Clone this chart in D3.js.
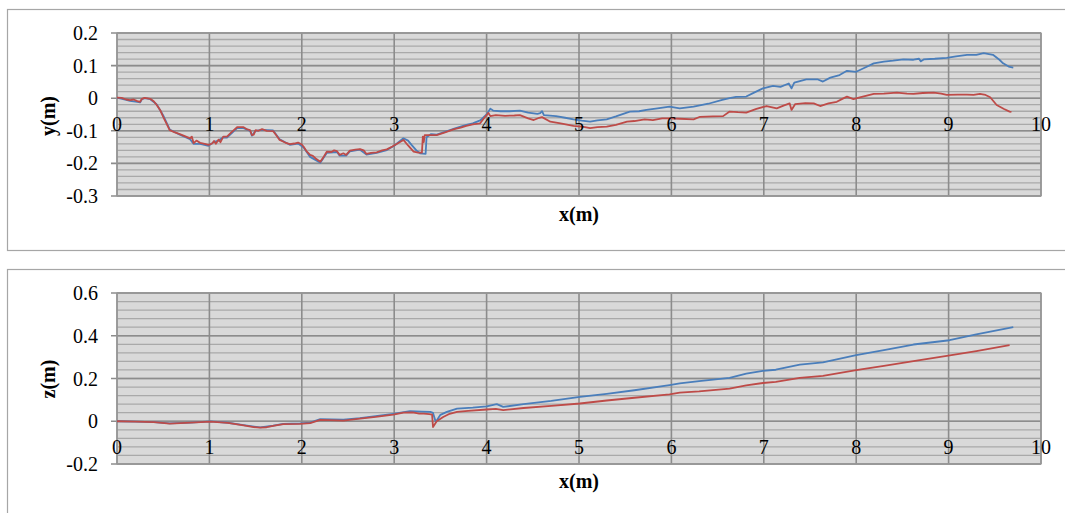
<!DOCTYPE html>
<html><head><meta charset="utf-8">
<script src="https://cdn.jsdelivr.net/npm/d3@7"></script>
<style>body{margin:0;background:#fff}svg{display:block}</style>
</head><body><svg id="c" width="1065" height="513"></svg>
<script>
const xTicks = [0,1,2,3,4,5,6,7,8,9,10];
const yTicks = [-0.3,-0.2,-0.1,0,0.1,0.2];
const zTicks = [-0.2,0,0.2,0.4,0.6];
const yBlue = [[0,0.002],[0.1,-0.005],[0.14,-0.008],[0.22,-0.011],[0.25,-0.013],[0.27,-0.003],[0.3,0],[0.36,-0.003],[0.43,-0.019],[0.5,-0.053],[0.57,-0.096],[0.68,-0.112],[0.79,-0.126],[0.83,-0.14],[0.9,-0.14],[0.99,-0.146],[1.05,-0.134],[1.1,-0.13],[1.15,-0.12],[1.19,-0.121],[1.3,-0.092],[1.37,-0.092],[1.44,-0.1],[1.46,-0.115],[1.5,-0.1],[1.57,-0.097],[1.69,-0.099],[1.76,-0.126],[1.87,-0.143],[1.96,-0.139],[2.02,-0.151],[2.09,-0.18],[2.2,-0.198],[2.27,-0.168],[2.38,-0.165],[2.41,-0.176],[2.48,-0.176],[2.52,-0.163],[2.63,-0.158],[2.7,-0.173],[2.81,-0.168],[2.92,-0.159],[3.0,-0.146],[3.1,-0.123],[3.15,-0.13],[3.19,-0.144],[3.24,-0.16],[3.28,-0.169],[3.34,-0.171],[3.35,-0.12],[3.4,-0.11],[3.46,-0.112],[3.55,-0.103],[3.65,-0.093],[3.78,-0.082],[3.85,-0.077],[3.93,-0.068],[4.0,-0.05],[4.04,-0.032],[4.07,-0.038],[4.15,-0.04],[4.25,-0.04],[4.36,-0.038],[4.45,-0.044],[4.55,-0.048],[4.58,-0.046],[4.6,-0.04],[4.62,-0.052],[4.75,-0.055],[4.85,-0.06],[4.94,-0.065],[5.03,-0.069],[5.12,-0.072],[5.2,-0.068],[5.3,-0.065],[5.4,-0.056],[5.55,-0.041],[5.65,-0.04],[5.73,-0.036],[5.85,-0.031],[5.98,-0.026],[6.09,-0.031],[6.24,-0.026],[6.4,-0.017],[6.55,-0.005],[6.63,0],[6.7,0.004],[6.81,0.005],[6.9,0.018],[6.99,0.03],[7.1,0.038],[7.18,0.035],[7.27,0.045],[7.3,0.03],[7.33,0.048],[7.46,0.058],[7.58,0.058],[7.64,0.051],[7.72,0.063],[7.82,0.071],[7.9,0.084],[8.0,0.081],[8.08,0.092],[8.19,0.107],[8.3,0.112],[8.4,0.115],[8.51,0.119],[8.62,0.118],[8.68,0.121],[8.7,0.113],[8.73,0.119],[8.85,0.121],[8.98,0.124],[9.08,0.128],[9.2,0.133],[9.3,0.133],[9.38,0.138],[9.48,0.133],[9.55,0.118],[9.59,0.107],[9.65,0.097],[9.7,0.094]];
const yRed = [[0,0.002],[0.05,0.001],[0.1,-0.004],[0.14,-0.006],[0.18,-0.004],[0.22,-0.009],[0.25,-0.011],[0.27,-0.002],[0.3,0.001],[0.36,-0.002],[0.4,-0.01],[0.43,-0.021],[0.47,-0.038],[0.5,-0.057],[0.54,-0.08],[0.57,-0.098],[0.62,-0.104],[0.68,-0.110],[0.74,-0.117],[0.79,-0.123],[0.81,-0.118],[0.83,-0.138],[0.86,-0.13],[0.9,-0.137],[0.95,-0.14],[0.99,-0.143],[1.03,-0.139],[1.05,-0.131],[1.07,-0.14],[1.1,-0.127],[1.12,-0.135],[1.15,-0.118],[1.19,-0.118],[1.24,-0.104],[1.3,-0.089],[1.37,-0.089],[1.41,-0.096],[1.44,-0.098],[1.46,-0.113],[1.48,-0.112],[1.5,-0.098],[1.53,-0.1],[1.57,-0.095],[1.62,-0.1],[1.69,-0.101],[1.72,-0.112],[1.76,-0.128],[1.82,-0.136],[1.87,-0.141],[1.92,-0.139],[1.96,-0.136],[2.0,-0.142],[2.02,-0.149],[2.05,-0.162],[2.09,-0.174],[2.12,-0.177],[2.15,-0.185],[2.2,-0.195],[2.23,-0.183],[2.27,-0.164],[2.32,-0.165],[2.35,-0.16],[2.38,-0.162],[2.41,-0.174],[2.45,-0.169],[2.48,-0.174],[2.52,-0.161],[2.58,-0.158],[2.63,-0.156],[2.67,-0.16],[2.7,-0.171],[2.75,-0.168],[2.81,-0.166],[2.87,-0.16],[2.92,-0.157],[2.98,-0.148],[3.04,-0.138],[3.1,-0.128],[3.15,-0.145],[3.21,-0.164],[3.26,-0.167],[3.3,-0.167],[3.31,-0.118],[3.32,-0.135],[3.33,-0.113],[3.4,-0.113],[3.46,-0.113],[3.55,-0.105],[3.65,-0.095],[3.72,-0.09],[3.78,-0.085],[3.85,-0.08],[3.93,-0.077],[3.97,-0.062],[4.0,-0.052],[4.02,-0.045],[4.04,-0.055],[4.1,-0.052],[4.2,-0.054],[4.3,-0.053],[4.36,-0.052],[4.45,-0.062],[4.51,-0.067],[4.57,-0.06],[4.6,-0.058],[4.69,-0.072],[4.8,-0.077],[4.94,-0.085],[5.05,-0.088],[5.12,-0.092],[5.2,-0.089],[5.3,-0.087],[5.4,-0.082],[5.52,-0.072],[5.6,-0.07],[5.71,-0.065],[5.8,-0.067],[5.9,-0.062],[5.98,-0.062],[6.09,-0.063],[6.24,-0.065],[6.31,-0.057],[6.45,-0.056],[6.56,-0.055],[6.63,-0.041],[6.72,-0.043],[6.81,-0.044],[6.92,-0.033],[7.03,-0.024],[7.14,-0.031],[7.22,-0.022],[7.28,-0.016],[7.3,-0.036],[7.34,-0.018],[7.45,-0.015],[7.54,-0.016],[7.61,-0.024],[7.7,-0.016],[7.79,-0.011],[7.85,-0.002],[7.9,0.005],[7.97,-0.003],[8.05,0.003],[8.19,0.013],[8.3,0.014],[8.44,0.017],[8.55,0.014],[8.62,0.013],[8.72,0.016],[8.84,0.017],[8.92,0.014],[8.98,0.01],[9.1,0.011],[9.2,0.011],[9.27,0.010],[9.34,0.013],[9.4,0.01],[9.45,0.003],[9.52,-0.021],[9.6,-0.033],[9.66,-0.041],[9.68,-0.042]];
const zBlue = [[0,0],[0.2,-0.002],[0.4,-0.004],[0.57,-0.01],[0.8,-0.006],[1.01,-0.001],[1.2,-0.007],[1.37,-0.018],[1.55,-0.029],[1.69,-0.021],[1.8,-0.012],[1.98,-0.01],[2.09,-0.006],[2.2,0.01],[2.45,0.008],[2.63,0.015],[2.8,0.024],[2.99,0.035],[3.17,0.047],[3.3,0.045],[3.39,0.044],[3.42,0.039],[3.45,-0.003],[3.5,0.03],[3.57,0.044],[3.68,0.059],[3.85,0.064],[4.0,0.07],[4.11,0.08],[4.18,0.067],[4.4,0.08],[4.7,0.095],[5.01,0.114],[5.3,0.128],[5.6,0.145],[5.98,0.169],[6.09,0.177],[6.3,0.188],[6.63,0.203],[6.81,0.223],[6.99,0.236],[7.13,0.241],[7.39,0.265],[7.64,0.275],[8.0,0.309],[8.3,0.333],[8.62,0.359],[9.01,0.379],[9.3,0.406],[9.7,0.44]];
const zRed = [[0,0],[0.2,-0.002],[0.4,-0.004],[0.57,-0.011],[0.8,-0.006],[1.01,-0.002],[1.2,-0.008],[1.37,-0.019],[1.48,-0.027],[1.55,-0.030],[1.62,-0.028],[1.69,-0.022],[1.8,-0.013],[1.98,-0.012],[2.09,-0.009],[2.2,0.006],[2.3,0.005],[2.45,0.003],[2.63,0.012],[2.8,0.02],[2.99,0.031],[3.1,0.04],[3.2,0.041],[3.27,0.036],[3.32,0.036],[3.38,0.033],[3.41,0.031],[3.42,-0.027],[3.46,0.0],[3.53,0.02],[3.6,0.035],[3.68,0.044],[3.8,0.049],[4.0,0.055],[4.1,0.058],[4.18,0.052],[4.4,0.062],[4.7,0.072],[5.01,0.083],[5.3,0.097],[5.6,0.11],[5.98,0.126],[6.09,0.134],[6.3,0.14],[6.63,0.153],[6.81,0.168],[6.99,0.179],[7.13,0.184],[7.39,0.203],[7.64,0.212],[8.0,0.239],[8.3,0.259],[8.62,0.281],[8.98,0.306],[9.3,0.328],[9.66,0.356]];

const FONT = "'Liberation Serif', 'Times New Roman', 'DejaVu Serif', serif";
const svg = d3.select("#c");
const BLUE = "#4a7ebb", RED = "#be4b48";

function panel(o) {
  const g = svg.append("g").attr("font-family", FONT);
  g.append("rect").attr("x", o.box[0]+0.5).attr("y", o.box[1]+0.5).attr("width", o.box[2]).attr("height", o.box[3])
    .attr("fill", "#fff").attr("stroke", "#a6a6a6").attr("stroke-width", 1.2);
  const x = d3.scaleLinear().domain([0,10]).range([o.left, o.right]);
  const y = d3.scaleLinear().domain(o.domain).range([o.bottom, o.top]);
  g.append("rect").attr("x", o.left).attr("y", o.top).attr("width", o.right-o.left).attr("height", o.bottom-o.top).attr("fill", "#d9d9d9");
  const minors = d3.range(o.domain[0], o.domain[1]+1e-9, o.minor);
  g.append("g").selectAll("line").data(minors).join("line")
    .attr("x1", o.left).attr("x2", o.right).attr("y1", d=>y(d)).attr("y2", d=>y(d))
    .attr("stroke", "#a9a9a9").attr("stroke-width", 1.3);
  g.append("g").selectAll("line").data(o.ticks).join("line")
    .attr("x1", o.left-6).attr("x2", o.right).attr("y1", d=>y(d)).attr("y2", d=>y(d))
    .attr("stroke", "#8c8c8c").attr("stroke-width", 1.6);
  g.append("g").selectAll("line").data(xTicks).join("line")
    .attr("x1", d=>x(d)).attr("x2", d=>x(d)).attr("y1", o.top).attr("y2", o.bottom)
    .attr("stroke", "#8c8c8c").attr("stroke-width", 1.6);
  g.append("rect").attr("x", o.left).attr("y", o.top).attr("width", o.right-o.left).attr("height", o.bottom-o.top)
    .attr("fill", "none").attr("stroke", "#999").attr("stroke-width", 1.2);
  const line = d3.line().x(d=>x(d[0])).y(d=>y(d[1]));
  g.append("path").datum(o.blue).attr("d", line).attr("fill","none").attr("stroke", BLUE).attr("stroke-width", 1.8).attr("stroke-linejoin","round");
  g.append("path").datum(o.red).attr("d", line).attr("fill","none").attr("stroke", RED).attr("stroke-width", 1.8).attr("stroke-linejoin","round");
  g.append("g").selectAll("text").data(o.ticks).join("text")
    .attr("x", 98).attr("y", d=>y(d)).attr("dy", "0.35em").attr("text-anchor","end")
    .attr("font-size", 20).attr("fill", "#000").text(d=>d3.format(o.fmt)(d).replace("−","-"));
  g.append("g").selectAll("text").data(xTicks).join("text")
    .attr("x", d=>x(d)).attr("y", y(0)+33).attr("text-anchor","middle")
    .attr("font-size", 20).attr("fill", "#000").text(d=>d);
  g.append("text").attr("x", 579).attr("y", o.xTitleY).attr("text-anchor","middle")
    .attr("font-size", 20).attr("font-weight","bold").text("x(m)");
  g.append("text").attr("transform", `translate(55,${o.yTitleC}) rotate(-90)`).attr("text-anchor","middle")
    .attr("font-size", 20).attr("font-weight","bold").text(o.yTitle);
}

panel({box:[7,9,1070,241], left:117, right:1041, top:33, bottom:196, domain:[-0.3,0.2], ticks:yTicks, minor:0.02,
  fmt:".1~f", blue:yBlue, red:yRed, xTitleY:221, yTitle:"y(m)", yTitleC:116});
panel({box:[7,269,1070,260], left:117, right:1041, top:293, bottom:464, domain:[-0.2,0.6], ticks:zTicks, minor:0.04,
  fmt:".1~f", blue:zBlue, red:zRed, xTitleY:488, yTitle:"z(m)", yTitleC:379});
</script></body></html>
